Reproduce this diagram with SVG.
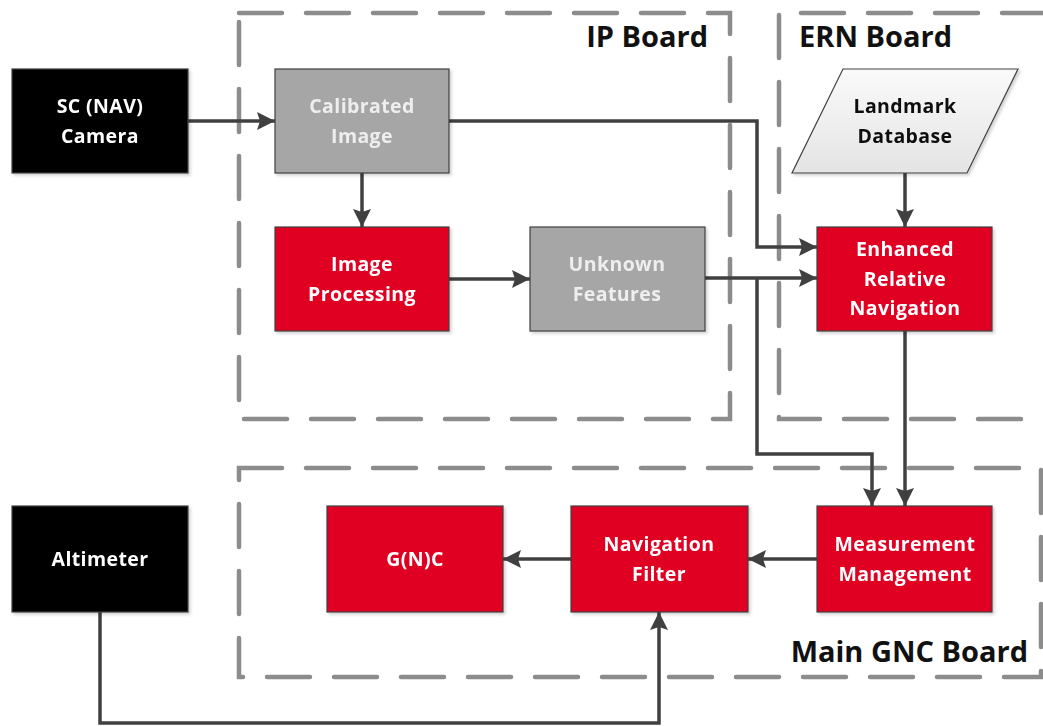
<svg xmlns="http://www.w3.org/2000/svg" width="1043" height="726" viewBox="0 0 1043 726">
<style>
.board{fill:none;stroke:#8c8c8c;stroke-width:4.5;stroke-dasharray:43 24;stroke-linecap:round}
.blk{fill:#000;stroke:#404040;stroke-width:1.2}
.gry{fill:#a6a6a6;stroke:#404040;stroke-width:1.2}
.red{fill:#e00024;stroke:#404040;stroke-width:1.2}
.t{font-family:"Open Sans",Lato,sans-serif;font-weight:bold;font-size:19.5px;letter-spacing:0.4px;text-anchor:middle}
.w{fill:#fff}
.lg{fill:#eeeeee}
.k{fill:#111}
.title{font-family:"Open Sans",Lato,sans-serif;font-weight:bold;font-size:29px;fill:#111;text-anchor:end}
.c{fill:none;stroke:#404040;stroke-width:3.5;stroke-linejoin:miter}
</style>
<defs>
<marker id="ah" markerUnits="userSpaceOnUse" markerWidth="20" markerHeight="20" refX="18" refY="9" orient="auto">
<path d="M0,0 L18,9 L0,18 L3,9 Z" fill="#404040"/>
</marker>
<linearGradient id="lmg" x1="0" y1="0" x2="0" y2="1">
<stop offset="0" stop-color="#fafafa"/>
<stop offset="1" stop-color="#e4e4e4"/>
</linearGradient>
<filter id="sh" x="-10%" y="-10%" width="130%" height="130%">
<feDropShadow dx="2" dy="2" stdDeviation="1.5" flood-color="#000" flood-opacity="0.18"/>
</filter>
</defs>

<g id="boards">
<rect class="board" x="239" y="13" width="491" height="406"/>
<path class="board" d="M1045,13 H779 V419 H1045"/>
<rect class="board" x="239" y="468" width="802" height="209"/>
<text class="title" x="708" y="47">IP Board</text>
<text class="title" x="952" y="47">ERN Board</text>
<text class="title" x="1028" y="662">Main GNC Board</text>
</g>

<g id="connectors">
<path class="c" d="M188,121 H275" marker-end="url(#ah)"/>
<path class="c" d="M362,173 V227" marker-end="url(#ah)"/>
<path class="c" d="M449,121 H757 V247 H817" marker-end="url(#ah)"/>
<path class="c" d="M449,279 H530" marker-end="url(#ah)"/>
<path class="c" d="M705,278 H817" marker-end="url(#ah)"/>
<path class="c" d="M757,278 V454 H872 V506" marker-end="url(#ah)"/>
<path class="c" d="M905,173 V227" marker-end="url(#ah)"/>
<path class="c" d="M905,331 V506" marker-end="url(#ah)"/>
<path class="c" d="M817,559 H748" marker-end="url(#ah)"/>
<path class="c" d="M571,559 H503" marker-end="url(#ah)"/>
<path class="c" d="M100,612 V723 H659 V612" marker-end="url(#ah)"/>
</g>

<g id="sc-camera" filter="url(#sh)">
<rect class="blk" x="12" y="69" width="176" height="104"/>
<text class="t w" x="100" y="113">SC (NAV)</text>
<text class="t w" x="100" y="143">Camera</text>
</g>
<g id="calibrated-image" filter="url(#sh)">
<rect class="gry" x="275" y="69" width="174" height="104"/>
<text class="t lg" x="362" y="113">Calibrated</text>
<text class="t lg" x="362" y="143">Image</text>
</g>
<g id="image-processing" filter="url(#sh)">
<rect class="red" x="275" y="227" width="174" height="104"/>
<text class="t w" x="362" y="271">Image</text>
<text class="t w" x="362" y="301">Processing</text>
</g>
<g id="unknown-features" filter="url(#sh)">
<rect class="gry" x="530" y="227" width="175" height="104"/>
<text class="t lg" x="617" y="271">Unknown</text>
<text class="t lg" x="617" y="301">Features</text>
</g>
<g id="landmark-database" filter="url(#sh)">
<polygon points="843,69 1018,69 967,173 792,173" fill="url(#lmg)" stroke="#404040" stroke-width="1.2"/>
<text class="t k" x="905" y="113">Landmark</text>
<text class="t k" x="905" y="143">Database</text>
</g>
<g id="ern" filter="url(#sh)">
<rect class="red" x="817" y="227" width="175" height="104"/>
<text class="t w" x="905" y="256">Enhanced</text>
<text class="t w" x="905" y="286">Relative</text>
<text class="t w" x="905" y="315">Navigation</text>
</g>
<g id="altimeter" filter="url(#sh)">
<rect class="blk" x="12" y="506" width="176" height="106"/>
<text class="t w" x="100" y="566">Altimeter</text>
</g>
<g id="gnc" filter="url(#sh)">
<rect class="red" x="327" y="506" width="176" height="106"/>
<text class="t w" x="415" y="566">G(N)C</text>
</g>
<g id="navigation-filter" filter="url(#sh)">
<rect class="red" x="571" y="506" width="177" height="106"/>
<text class="t w" x="659" y="551">Navigation</text>
<text class="t w" x="659" y="581">Filter</text>
</g>
<g id="measurement-management" filter="url(#sh)">
<rect class="red" x="817" y="506" width="175" height="106"/>
<text class="t w" x="905" y="551">Measurement</text>
<text class="t w" x="905" y="581">Management</text>
</g>
</svg>
